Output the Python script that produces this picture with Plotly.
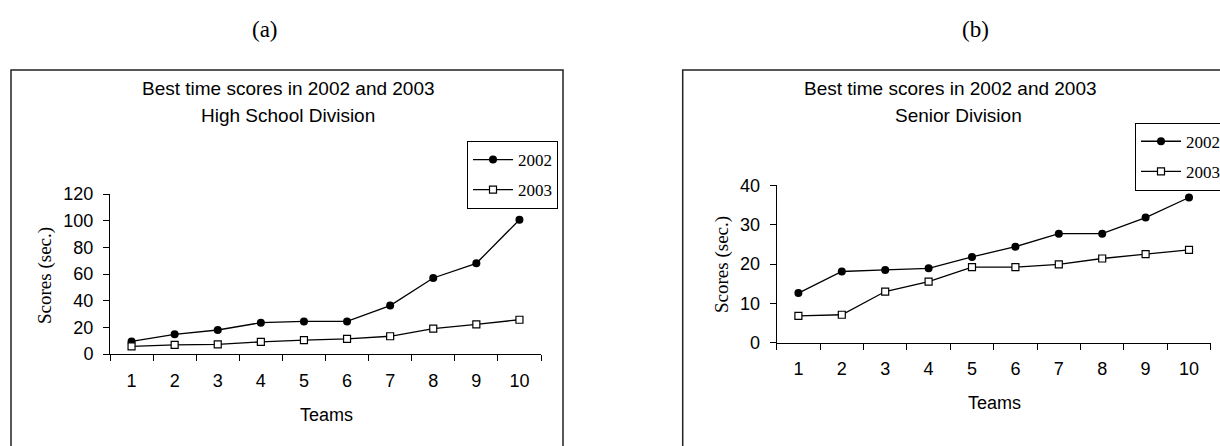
import plotly.graph_objects as go

W, H = 1220, 446

teams = ["1", "2", "3", "4", "5", "6", "7", "8", "9", "10"]
hs_2002 = [9.4, 14.8, 18.0, 23.5, 24.4, 24.4, 36.3, 57.0, 68.0, 100.7]
hs_2003 = [5.7, 6.9, 7.2, 9.1, 10.4, 11.4, 13.3, 19.0, 22.2, 25.7]
sr_2002 = [12.6, 18.1, 18.5, 18.9, 21.8, 24.4, 27.7, 27.7, 31.8, 36.9]
sr_2003 = [6.8, 7.1, 13.0, 15.5, 19.2, 19.2, 19.9, 21.4, 22.5, 23.6]

def fx(x):
    return x / W

def fy(y):
    return 1 - y / H

ARIAL = "Liberation Sans, Arial, sans-serif"
TIMES = "Liberation Serif, Times New Roman, serif"

fig = go.Figure()

def add_pair(y02, y03, xa, ya, leg, grp):
    fig.add_trace(go.Scatter(
        x=teams, y=y02, name="2002", mode="lines+markers",
        xaxis=xa, yaxis=ya, legend=leg, legendgroup=grp + "a",
        line=dict(color="black", width=1.3),
        marker=dict(symbol="circle", size=8, color="black"),
    ))
    fig.add_trace(go.Scatter(
        x=teams, y=y03, name="2003", mode="lines+markers",
        xaxis=xa, yaxis=ya, legend=leg, legendgroup=grp + "b",
        line=dict(color="black", width=1.3),
        marker=dict(symbol="square", size=7, color="white",
                    line=dict(color="black", width=1.2)),
    ))

add_pair(hs_2002, hs_2003, "x", "y", "legend", "hs")
add_pair(sr_2002, sr_2003, "x2", "y2", "legend2", "sr")

xcommon = dict(type="category", tickson="boundaries", ticks="outside", ticklen=6,
               tickcolor="black", showline=True, linecolor="black", linewidth=1,
               showgrid=False, zeroline=False, ticklabelstandoff=10,
               range=[-0.5, len(teams) - 0.5],
               tickfont=dict(family=ARIAL, size=18, color="black"))
ycommon = dict(ticks="outside", ticklen=6, tickcolor="black", showline=True,
               linecolor="black", linewidth=1, showgrid=False, zeroline=False,
               ticklabelstandoff=6,
               tickfont=dict(family=ARIAL, size=18, color="black"))

legcommon = dict(xanchor="left", yanchor="top", bordercolor="black", borderwidth=1,
                 bgcolor="white", font=dict(family=TIMES, size=17, color="black"),
                 tracegroupgap=5, itemwidth=40)

fig.update_layout(
    width=W, height=H,
    margin=dict(l=0, r=0, t=0, b=0, autoexpand=False),
    paper_bgcolor="white", plot_bgcolor="rgba(0,0,0,0)",
    xaxis=dict(domain=[fx(110), fx(541)], anchor="y", **xcommon),
    yaxis=dict(domain=[fy(354), fy(194)], anchor="x", range=[0, 120],
               tickvals=[0, 20, 40, 60, 80, 100, 120], **ycommon),
    xaxis2=dict(domain=[fx(776.7), fx(1210.7)], anchor="y2", **xcommon),
    yaxis2=dict(domain=[fy(342.7), fy(185.3)], anchor="x2", range=[0, 40],
                tickvals=[0, 10, 20, 30, 40], **ycommon),
    legend=dict(x=fx(467), y=fy(141), **legcommon),
    legend2=dict(x=fx(1135), y=fy(122.7), **legcommon),
    showlegend=True,
)

shapes = [
    dict(type="rect", xref="paper", yref="paper", x0=fx(11), x1=fx(563),
         y0=fy(470), y1=fy(70), line=dict(color="#222", width=1.5)),
    dict(type="rect", xref="paper", yref="paper", x0=fx(682.7), x1=fx(1240),
         y0=fy(470), y1=fy(70), line=dict(color="#222", width=1.5)),
]
fig.update_layout(shapes=shapes)

def ann(text, x, y, font, size, angle=0):
    fig.add_annotation(text=text, x=fx(x), y=fy(y), xref="paper", yref="paper",
                       xanchor="center", yanchor="middle", showarrow=False,
                       textangle=angle,
                       font=dict(family=font, size=size, color="black"))

ann("(a)", 265, 30, TIMES, 23)
ann("(b)", 975, 30, TIMES, 23)
ann("Best time scores in 2002 and 2003", 288, 88, ARIAL, 19)
ann("High School Division", 288, 116, ARIAL, 19)
ann("Best time scores in 2002 and 2003", 950, 88, ARIAL, 19)
ann("Senior Division", 958, 116, ARIAL, 19)
ann("Teams", 326, 415, ARIAL, 18)
ann("Teams", 994, 403, ARIAL, 18)
ann("Scores (sec.)", 45, 276, TIMES, 19, angle=-90)
ann("Scores (sec.)", 722, 265, TIMES, 19, angle=-90)

fig.write_html("out.html", config={"displayModeBar": False},
               post_script="document.body.style.margin='0';document.body.style.overflow='hidden';")
